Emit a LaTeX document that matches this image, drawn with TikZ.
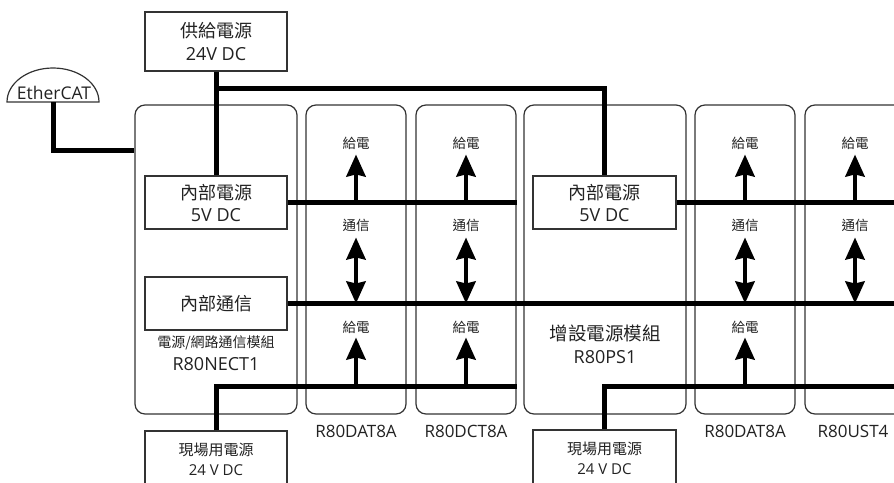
\documentclass[tikz,border=0pt]{standalone}
\usepackage{fontspec}
\setmainfont{Open Sans}
\newfontfamily\cjk{Noto Sans CJK TC}
\usetikzlibrary{arrows.meta, positioning}
\definecolor{frame}{HTML}{333333}
\definecolor{ink}{HTML}{222222}

\begin{document}
\begin{tikzpicture}[x=1pt, y=-1pt,
    module/.style={draw=frame, line width=1.2pt, rounded corners=10pt,
      minimum height=309pt, inner sep=0pt},
    blk/.style={draw=frame, line width=1.2pt, fill=white, minimum width=142pt,
      minimum height=53pt, inner sep=0pt, align=center, text=ink,
      font=\fontsize{18}{22}\selectfont},
    bus/.style={line width=5pt},
    feed/.style={line width=4.5pt, -{Stealth[length=22pt, width=19pt, inset=2pt]}},
    duplex/.style={line width=4.5pt,
      {Stealth[length=22pt, width=19pt, inset=2pt]}-{Stealth[length=22pt, width=19pt, inset=2pt]}},
    sig/.style={inner sep=0pt, text=ink, font=\cjk\fontsize{13.5}{16}\selectfont},
    model/.style={inner sep=0pt, text=ink, font=\fontsize{17}{20}\selectfont}]

  \clip (0,0) rectangle (894,482);

  % slices of the rack
  \node[module, minimum width=162pt] (m1) at (216,259.5) {};
  \node[module, minimum width=100pt] (m2) at (356,259.5) {};
  \node[module, minimum width=100pt] (m3) at (466,259.5) {};
  \node[module, minimum width=162pt] (m4) at (605,259.5) {};
  \node[module, minimum width=100pt] (m5) at (745,259.5) {};
  \node[module, minimum width=100pt] (m6) at (855,259.5) {};

  % model numbers
  \node[sig, font=\cjk\fontsize{14}{16}\selectfont] (m1kind) at (216,343) {電源/網路通信模組};
  \node[model, font=\fontsize{18}{20}\selectfont] (m1name) at (216,364) {R80NECT1};
  \node[model, font=\cjk\fontsize{18.5}{20}\selectfont] (m4kind) at (605,333) {增設電源模組};
  \node[model, font=\fontsize{18}{20}\selectfont] (m4name) at (605,357) {R80PS1};
  \node[model, below=10pt of m2] (n2) {R80DAT8A};
  \node[model, below=10pt of m3] (n3) {R80DCT8A};
  \node[model, below=10pt of m5] (n5) {R80DAT8A};
  \node[model, below=10pt of m6, xshift=-2pt] (n6) {R80UST4};

  % supplies and internal blocks
  \node[blk, minimum height=59pt, font=\fontsize{18}{23}\selectfont] (sup) at (216,41.5) {{\cjk 供給電源}\\24V DC};
  \node[blk] (ps1) at (216,202.5) {{\cjk 內部電源}\\5V DC};
  \node[blk, font=\cjk\fontsize{18}{22}\selectfont] (com) at (216,303.5) {內部通信};
  \node[blk, minimum width=143pt] (ps2) at (604.5,202.5) {{\cjk 內部電源}\\5V DC};
  \node[blk, minimum height=56pt, font=\fontsize{15}{20}\selectfont] (fld1) at (216,459) {{\cjk 現場用電源}\\24 V DC};
  \node[blk, minimum width=143pt, minimum height=56pt, font=\fontsize{15}{20}\selectfont] (fld2) at (604.5,458) {{\cjk 現場用電源}\\24 V DC};

  % EtherCAT port
  \draw[frame, line width=1.2pt] (7,102) arc[start angle=180, end angle=360, x radius=46, y radius=34] -- cycle;
  \node[inner sep=0pt, text=ink, font=\fontsize{17.5}{18}\selectfont, anchor=base] (ecat) at (54,99) {EtherCAT};
  \coordinate (ecatbase) at (53,102);
  \coordinate (join) at (216,88);

  % buses
  \draw[bus] (ecatbase) |- (m1.west |- 0,150);
  \draw[bus] (sup) -- (ps1);
  \draw[bus] (join) -| (ps2.north);
  \draw[bus] (ps1.east) -- (m3.east |- ps1.east);
  \draw[bus] (ps2.east) -- (ps2.east -| 900,0);
  \draw[bus] (com.east) -- (com.east -| 900,0);
  \draw[bus] (fld1.north) |- (m3.east |- 0,386);
  \draw[bus] (fld2.north) |- (900,386);

  % feeds in the I/O slices
  \node[sig] (p2) at (356,143) {給電};
  \node[sig] (c2) at (356,225) {通信};
  \node[sig] (q2) at (356,327) {給電};
  \draw[feed, shorten >=5pt] (m2 |- ps1) -- (p2);
  \draw[duplex, shorten <=6pt] (c2) -- (m2 |- com);
  \draw[feed, shorten >=4pt] (m2 |- 0,386) -- (q2);

  \node[sig] (p3) at (466,143) {給電};
  \node[sig] (c3) at (466,225) {通信};
  \node[sig] (q3) at (466,327) {給電};
  \draw[feed, shorten >=5pt] (m3 |- ps1) -- (p3);
  \draw[duplex, shorten <=6pt] (c3) -- (m3 |- com);
  \draw[feed, shorten >=4pt] (m3 |- 0,386) -- (q3);

  \node[sig] (p5) at (745,143) {給電};
  \node[sig] (c5) at (745,225) {通信};
  \node[sig] (q5) at (745,327) {給電};
  \draw[feed, shorten >=5pt] (m5 |- ps2) -- (p5);
  \draw[duplex, shorten <=6pt] (c5) -- (m5 |- com);
  \draw[feed, shorten >=4pt] (m5 |- 0,386) -- (q5);

  \node[sig] (p6) at (855,143) {給電};
  \node[sig] (c6) at (855,225) {通信};
  \draw[feed, shorten >=5pt] (m6 |- ps2) -- (p6);
  \draw[duplex, shorten <=6pt] (c6) -- (m6 |- com);
\end{tikzpicture}
\end{document}
